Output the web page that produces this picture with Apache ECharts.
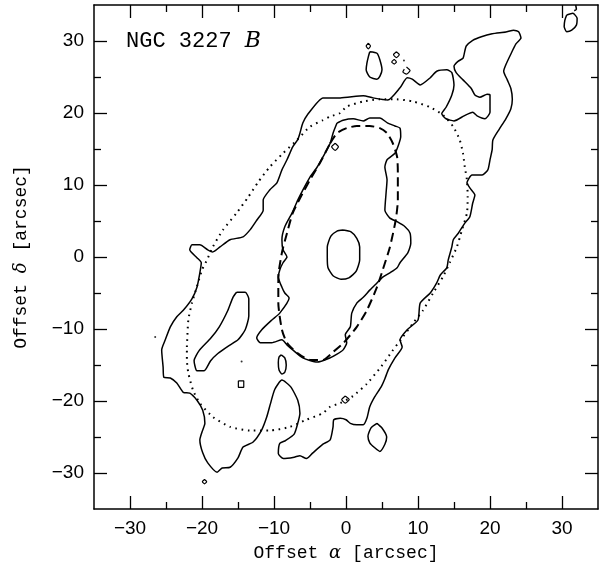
<!DOCTYPE html>
<html>
<head>
<meta charset="utf-8">
<script src="https://cdn.jsdelivr.net/npm/echarts@6.0.0/dist/echarts.min.js"></script>
<style>
html, body { margin: 0; padding: 0; background: #fff; }
#chart { width: 600px; height: 570px; }
</style>
</head>
<body>
<div id="chart"></div>
<script>
// offsets in arcsec
const majorTicks = [-30, -20, -10, 0, 10, 20, 30];
const minorTicks = [-25, -15, -5, 5, 15, 25];

const outerContour = [
  [-2.2, 22.1], [-3.2, 22.1], [-5.4, 19.7], [-6.0, 18.6], [-6.4, 17.2], [-6.7, 16.3], [-7.4, 15.3],
  [-8.2, 13.5], [-8.9, 12.1], [-9.6, 10.3], [-10.6, 9.3], [-11.5, 7.9], [-11.5, 6.5], [-12.4, 5.1],
  [-13.3, 3.8], [-14.3, 2.8], [-16.1, 2.4], [-17.5, 1.4], [-18.5, 0.7], [-19.2, 1.0], [-20.3, 1.7],
  [-21.4, 1.7], [-21.7, 1.0], [-20.7, -0.1], [-20.1, -0.8], [-20.3, -2.2], [-20.7, -4.2], [-21.4, -5.8],
  [-22.6, -7.4], [-23.5, -8.3], [-24.4, -9.7], [-25.1, -11.5], [-25.6, -12.9], [-25.4, -15.3],
  [-25.3, -16.7], [-24.4, -16.8], [-23.5, -17.5], [-22.6, -18.8], [-21.7, -18.9], [-20.7, -19.9],
  [-19.9, -21.3], [-19.6, -23.1], [-20.0, -24.3], [-20.3, -25.4], [-19.9, -27.2], [-19.2, -28.6],
  [-17.9, -29.9], [-17.2, -29.3], [-16.1, -29.2], [-15.0, -27.9], [-14.3, -26.4], [-12.9, -25.7],
  [-11.7, -24.0], [-11.0, -22.2], [-10.5, -20.4], [-9.9, -18.4], [-8.9, -17.1], [-7.7, -18.0],
  [-6.7, -19.9], [-6.4, -21.7], [-6.7, -23.1], [-7.2, -24.6], [-8.4, -25.5], [-9.2, -25.9],
  [-9.4, -27.3], [-8.7, -28.0], [-7.2, -27.8], [-6.4, -27.6], [-5.5, -28.0], [-4.6, -27.2], [-3.2, -26.0],
  [-2.2, -25.4], [-1.8, -23.6], [-1.7, -22.6], [-0.8, -22.4], [0.0, -22.6], [0.6, -23.1], [1.5, -23.3], [2.4, -23.3],
  [2.9, -22.4], [3.3, -20.8], [4.0, -19.4], [4.9, -18.0], [5.4, -16.9], [5.9, -15.6], [6.8, -14.0],
  [7.8, -12.5], [7.5, -11.5], [8.5, -10.1], [10.0, -8.75], [10.3, -6.4], [11.7, -5.0], [12.6, -3.6],
  [13.1, -2.5], [14.0, -1.5], [14.2, -0.4], [14.7, 1.4], [14.9, 2.4], [15.6, 3.3], [16.5, 4.7],
  [17.2, 5.6], [17.6, 7.5], [17.9, 8.6], [17.2, 9.6], [16.8, 10.3], [17.5, 11.4], [18.9, 11.4],
  [19.7, 12.1], [20.0, 13.5], [20.3, 14.9], [20.4, 16.25], [21.25, 17.7], [22.2, 19.2], [22.9, 20.6],
  [23.1, 21.9], [22.9, 23.4], [22.4, 24.6], [21.9, 25.8], [22.2, 26.7], [22.9, 28.2], [23.6, 29.6],
  [24.3, 30.4], [24.0, 31.25], [23.3, 31.5], [22.2, 31.25], [20.3, 31.0], [18.8, 30.6], [17.6, 30.1],
  [16.7, 29.3], [16.5, 28.6], [16.25, 27.6], [15.6, 27.2], [15.0, 26.5], [15.3, 25.6], [16.25, 24.6],
  [17.4, 23.4], [17.9, 22.5], [18.6, 22.2], [19.6, 22.6], [20.0, 22.5], [20.0, 20.1], [19.3, 19.2],
  [18.2, 19.6], [17.6, 20.1], [16.4, 19.6], [15.0, 18.9], [13.9, 19.2], [13.3, 19.9], [13.9, 20.8],
  [14.7, 22.5], [15.0, 23.9], [14.7, 25.6], [14.0, 26.0], [12.6, 25.8], [11.7, 24.9], [10.3, 23.9],
  [9.2, 24.7], [8.5, 24.9], [7.5, 23.5], [5.8, 21.8], [3.75, 22.1], [2.4, 22.4],
  [-0.8, 22.1], [-2.2, 22.1]
];

const innerContour = [
  [-1.25, 18.6], [-0.4, 19.0], [1.0, 19.2], [2.4, 18.9], [3.3, 19.3], [4.7, 19.3], [5.8, 18.6],
  [6.8, 18.2], [7.5, 17.9], [7.6, 16.7], [7.2, 15.3], [6.8, 14.4], [5.7, 13.5], [5.4, 12.5],
  [5.7, 10.7], [5.6, 9.3], [5.4, 6.5], [6.1, 5.4], [7.1, 4.9], [8.2, 4.2], [8.9, 3.3], [9.0, 1.9],
  [8.6, 0.6], [7.5, -0.8], [7.1, -1.5], [6.1, -2.2], [5.1, -2.8], [4.3, -3.6], [3.3, -4.6],
  [2.4, -5.6], [1.5, -6.4], [0.8, -7.8], [0.6, -9.7], [-0.1, -10.8], [0.1, -11.9], [-0.4, -12.9],
  [-1.25, -13.5], [-2.2, -14.0], [-4.0, -14.6], [-6.0, -14.0], [-7.4, -12.9], [-8.2, -12.2],
  [-8.9, -11.5], [-10.3, -11.9], [-11.9, -11.9], [-12.4, -11.25], [-11.7, -10.1], [-10.3, -8.75],
  [-9.2, -7.8], [-7.9, -5.7], [-8.5, -5.0], [-8.9, -4.2], [-9.4, -2.8], [-9.2, -1.8], [-8.75, -0.8],
  [-8.2, 0.0], [-8.75, 1.0], [-8.9, 2.4], [-8.5, 4.2], [-7.5, 6.1], [-6.7, 7.9], [-6.0, 9.3],
  [-5.0, 11.1], [-4.0, 12.5], [-3.2, 13.9], [-2.2, 15.8], [-1.8, 17.2], [-1.25, 18.6]
];

const coreContour = [
  [-0.4, 3.75], [0.7, 3.5], [1.5, 2.6], [1.9, 1.4], [1.9, -0.4], [1.4, -2.0], [0.4, -2.9],
  [-0.7, -3.1], [-1.8, -2.6], [-2.5, -1.5], [-2.6, 0.0], [-2.6, 1.4], [-2.1, 2.9], [-1.25, 3.6], [-0.4, 3.75]
];

const fingerContour = [
  [-15.2, -4.9], [-14.0, -4.9], [-13.5, -5.8], [-13.5, -8.2], [-14.0, -10.1], [-15.0, -11.5],
  [-16.4, -12.4], [-17.8, -13.4], [-18.8, -14.4], [-19.7, -15.8], [-20.7, -15.8], [-21.1, -14.4],
  [-20.4, -13.0], [-18.8, -11.3], [-17.6, -9.7], [-16.4, -7.4], [-15.7, -5.6], [-15.2, -4.9]
];

const northBlob = [
  [3.3, 28.5], [4.3, 28.3], [4.7, 27.4], [5.0, 26.0], [4.7, 25.1], [4.3, 24.7], [3.3, 25.0],
  [2.8, 26.0], [2.9, 26.9], [3.1, 27.8], [3.3, 28.5]
];

const southBlob = [
  [4.3, -23.1], [5.0, -23.75], [5.65, -25.0], [5.4, -26.0], [4.7, -27.0],
  [4.0, -26.5], [3.3, -25.8], [3.05, -24.9], [3.5, -23.7], [4.3, -23.1]
];

const cornerBlob = [
  [30.65, 33.6], [31.5, 33.85], [32.1, 33.15], [32.0, 32.2], [31.35, 31.5], [30.65, 31.3],
  [30.3, 32.0], [30.4, 32.9], [30.65, 33.6]
];

const edgeFragment = [[31.9, 35.0], [32.0, 34.4], [31.7, 34.2]];

const knotA = [
  [-9.0, -13.6], [-8.5, -14.0], [-8.3, -15.0], [-8.5, -16.0], [-8.9, -16.25], [-9.3, -15.7],
  [-9.4, -14.7], [-9.3, -13.9], [-9.0, -13.6]
];
const knotB = [[-14.95, -17.2], [-14.2, -17.2], [-14.2, -18.1], [-14.95, -18.1], [-14.95, -17.2]];
const knotC = [[-19.65, -30.9], [-19.35, -31.2], [-19.65, -31.5], [-19.95, -31.2], [-19.65, -30.9]];
const knotD = [[-0.1, -19.3], [0.45, -19.8], [-0.1, -20.3], [-0.6, -19.8], [-0.1, -19.3]];
const knotE = [[-1.5, 15.8], [-1.05, 15.3], [-1.5, 14.8], [-2.0, 15.3], [-1.5, 15.8]];
const knotF = [[3.1, 29.7], [3.4, 29.3], [3.1, 28.9], [2.8, 29.3], [3.1, 29.7]];
const knotG = [[7.0, 28.5], [7.4, 28.1], [7.0, 27.7], [6.6, 28.1], [7.0, 28.5]];
const knotH = [[6.7, 27.45], [7.0, 27.1], [6.7, 26.8], [6.35, 27.1], [6.7, 27.45]];
const knotI = [[8.4, 26.4], [8.9, 25.9], [8.4, 25.4], [7.9, 25.7], [8.1, 26.1]];

const strayDots = [[-26.5, -11.1], [-14.5, -14.5], [8.05, 27.3]];

const dashedEllipse = [
  [-2.2, 15.8], [-1.25, 17.2], [0.1, 17.9], [1.5, 18.2], [3.3, 18.2], [4.7, 17.9], [5.7, 17.2],
  [6.5, 15.8], [7.1, 13.9], [7.2, 11.7], [7.2, 9.7], [7.2, 7.9], [6.9, 5.1], [6.1, 1.4], [5.1, -1.8],
  [4.3, -4.2], [2.9, -7.4], [1.5, -9.7], [-0.4, -12.0], [-1.8, -13.2], [-3.2, -14.3], [-5.0, -14.3],
  [-6.8, -13.3], [-8.2, -11.9], [-8.9, -10.1], [-9.4, -6.4], [-9.4, -2.8], [-8.9, 0.6], [-8.2, 3.3],
  [-7.4, 6.1], [-6.0, 8.9], [-5.0, 10.7], [-3.6, 13.1], [-2.2, 15.8]
];

const dottedEllipse = [
  [-22.1, -12.5], [-21.9, -8.75], [-21.4, -6.4], [-20.7, -4.1], [-20.0, -1.8], [-19.3, -0.4],
  [-18.5, 1.4], [-17.1, 3.75], [-15.2, 6.1], [-13.6, 8.3], [-12.2, 10.4], [-10.6, 12.5],
  [-8.75, 14.4], [-6.8, 16.25], [-5.0, 18.1], [-3.2, 19.0], [-2.2, 19.5], [-0.8, 20.0], [0.1, 20.9],
  [2.4, 21.6], [4.7, 21.9], [7.0, 21.9], [9.3, 21.6], [11.7, 20.8], [13.5, 19.7], [14.9, 18.1],
  [15.8, 16.25], [16.25, 14.4], [16.5, 12.5], [16.8, 10.7], [16.9, 8.3], [16.8, 6.1], [16.1, 3.75],
  [15.4, 1.4], [14.4, -0.8], [13.5, -2.7], [12.1, -5.0], [10.7, -7.4], [9.3, -9.2], [7.9, -11.1],
  [6.4, -13.1], [4.9, -15.2], [2.9, -17.6], [1.0, -19.3], [-0.8, -20.3], [-2.2, -20.8], [-3.2, -21.7],
  [-5.5, -22.6], [-7.8, -23.6], [-10.6, -24.1], [-13.3, -24.1], [-16.1, -23.6], [-18.5, -22.2],
  [-20.3, -20.3], [-21.25, -18.5], [-21.9, -16.1], [-22.1, -14.3], [-22.1, -12.5]
];

let chart = echarts.init(document.getElementById("chart"));

const tickFont = "'Liberation Sans', Arial, sans-serif";
const monoFont = "'Liberation Mono', 'DejaVu Sans Mono', monospace";

function minus(v) {
  return String(v).replace("-", "\u2212");
}

function axis(pos, values, len, withLabel, withLine, name) {
  return {
    type: "value",
    position: pos,
    min: -35,
    max: 35,
    interval: 5,
    splitLine: { show: false },
    axisLine: { show: withLine, onZero: false, lineStyle: { color: "#000", width: 1.5 } },
    axisTick: {
      show: true,
      inside: true,
      length: len,
      customValues: values,
      lineStyle: { color: "#000", width: 1.3 },
    },
    axisLabel: {
      show: withLabel,
      customValues: majorTicks,
      formatter: minus,
      color: "#000",
      fontFamily: tickFont,
      fontSize: 19,
      margin: 10,
    },
    name: name || "",
    nameLocation: "middle",
  };
}

function contour(data, style) {
  return {
    type: "line",
    data: data,
    symbol: "none",
    smooth: 0.2,
    silent: true,
    animation: false,
    lineStyle: Object.assign({ color: "#000", width: 1.5 }, style || {}),
  };
}

let xBottom = axis("bottom", majorTicks, 13, true, true, "{t|Offset }{g|\u03b1}{t| [arcsec]}");
xBottom.nameGap = 35;
xBottom.nameTextStyle = {
  rich: {
    t: { fontFamily: monoFont, fontSize: 18, color: "#000" },
    g: { fontFamily: "'DejaVu Serif', serif", fontStyle: "italic", fontSize: 18, color: "#000" },
  },
};
let yLeft = axis("left", majorTicks, 13, true, true, "{t|Offset }{g|\u03b4}{t| [arcsec]}");
yLeft.nameGap = 64;
yLeft.nameRotate = 90;
yLeft.nameTextStyle = xBottom.nameTextStyle;

let option = {
  backgroundColor: "#fff",
  animation: false,
  title: {
    text: "{t|NGC 3227 }{b|B}",
    left: 126,
    top: 30,
    padding: 0,
    textStyle: {
      fontWeight: "normal",
      rich: {
        t: { fontFamily: monoFont, fontSize: 22, fontWeight: "normal", color: "#000" },
        b: { fontFamily: "'DejaVu Serif', serif", fontStyle: "italic", fontWeight: "normal", fontSize: 22, color: "#000" },
      },
    },
  },
  grid: { left: 94, right: 2, top: 5, bottom: 61, containLabel: false },
  xAxis: [
    xBottom,
    axis("bottom", minorTicks, 7, false, false),
    axis("top", majorTicks, 13, false, true),
    axis("top", minorTicks, 7, false, false),
  ],
  yAxis: [
    yLeft,
    axis("left", minorTicks, 7, false, false),
    axis("right", majorTicks, 13, false, true),
    axis("right", minorTicks, 7, false, false),
  ],
  series: [
    contour(outerContour),
    contour(innerContour),
    contour(coreContour),
    contour(fingerContour),
    contour(northBlob),
    contour(southBlob),
    contour(cornerBlob),
    contour(edgeFragment),
    contour(knotA),
    contour(knotB, { width: 1.2 }),
    contour(knotC, { width: 1.2 }),
    contour(knotD, { width: 1.2 }),
    contour(knotE, { width: 1.2 }),
    contour(knotF, { width: 1.2 }),
    contour(knotG, { width: 1.2 }),
    contour(knotH, { width: 1.2 }),
    contour(knotI, { width: 1.2 }),
    contour(dashedEllipse, { width: 2, type: [9, 5] }),
    contour(dottedEllipse, { width: 2, type: [1.6, 4.6] }),
    {
      type: "scatter",
      data: strayDots,
      symbol: "circle",
      symbolSize: 2,
      silent: true,
      itemStyle: { color: "#000" },
    },
  ],
};

chart.setOption(option);
window.addEventListener("resize", () => {
  chart.resize();
});
</script>
</body>
</html>
